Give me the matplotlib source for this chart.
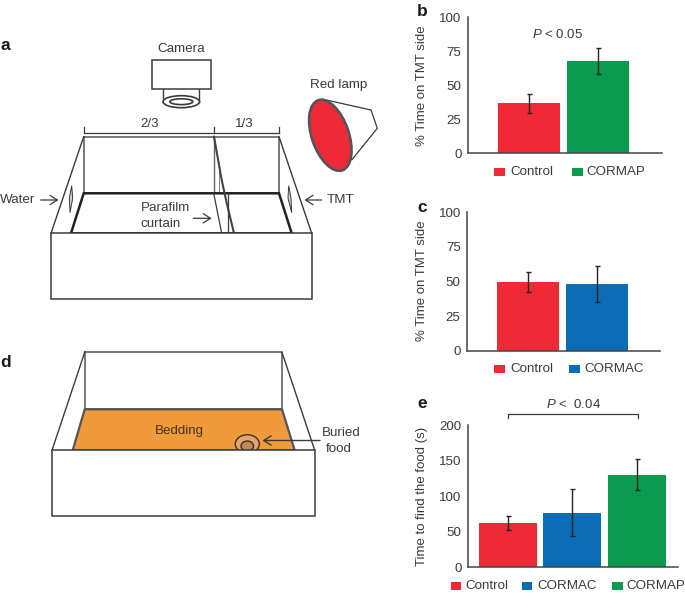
import matplotlib
matplotlib.use("Agg")
import matplotlib.pyplot as plt
from matplotlib.patches import Ellipse, Polygon, Rectangle

plt.rcParams["font.family"] = ["Liberation Sans", "DejaVu Sans"]
plt.rcParams["font.size"] = 9.6
plt.rcParams["mathtext.fontset"] = "custom"
plt.rcParams["mathtext.rm"] = "Liberation Sans"
plt.rcParams["mathtext.it"] = "Liberation Sans:italic"

INK = "#3a3a3a"
RED = "#EE2A37"
GREEN = "#0A9B4F"
BLUE = "#0B6CB6"
ORANGE = "#EF9A3B"

# panel b
b_groups = ["Control", "CORMAP"]
b_values = [36.5, 68]
b_low = [29.7, 58]
b_high = [43.6, 77.5]

# panel c
c_groups = ["Control", "CORMAC"]
c_values = [49.4, 48.2]
c_low = [42.6, 35.4]
c_high = [56.6, 61.2]

# panel e
e_groups = ["Control", "CORMAC", "CORMAP"]
e_values = [63, 77, 130]
e_low = [53, 44, 108.5]
e_high = [72.3, 110, 152.6]

group_colors = {"Control": RED, "CORMAP": GREEN, "CORMAC": BLUE}

W, H = 685, 593
fig = plt.figure(figsize=(W / 100, H / 100), dpi=100)

# whole figure axes in pixels, for the drawings and the labels
pix = fig.add_axes([0, 0, 1, 1])
pix.set_xlim(0, W)
pix.set_ylim(H, 0)
pix.axis("off")


def line(xs, ys, lw=1.1, color=INK, zorder=2):
    pix.plot(xs, ys, color=color, lw=lw, solid_capstyle="projecting", zorder=zorder)


def arrow(x0, x1, y, lw=0.9):
    pix.annotate(
        "",
        xy=(x1, y),
        xytext=(x0, y),
        arrowprops=dict(
            arrowstyle="->,head_length=0.55,head_width=0.35",
            color=INK,
            lw=lw,
            shrinkA=0,
            shrinkB=0,
        ),
        zorder=8,
    )


def label(x, y, s, ha="center", **kw):
    pix.text(x, y, s, ha=ha, va="center", color=INK, zorder=9, **kw)


def panel_letter(x, y, s):
    pix.text(x, y, s, ha="center", va="center", fontsize=12.5, fontweight="bold", color="#1a1a1a")


def bar_panel(box, spacing, first, ymax, ticks, groups, values, low, high, ylabel, label_y):
    left, top, right, bottom = box
    ax = fig.add_axes(
        [left / W, 1 - bottom / H, (right - left) / W, (bottom - top) / H], zorder=3
    )
    ax.patch.set_alpha(0)
    x_pos = list(range(len(groups)))
    heights = values
    yerr = [[v - l for v, l in zip(values, low)], [h - v for v, h in zip(values, high)]]
    ax.bar(x_pos, heights, width=0.905, color=[group_colors[g] for g in groups])
    ax.errorbar(
        x_pos, heights, yerr=yerr, fmt="none", ecolor="#222222",
        elinewidth=1.0, capsize=1.8, capthick=1.0,
    )
    ax.set_xlim((left - first) / spacing, (right - first) / spacing)
    ax.set_ylim(0, ymax)
    ax.set_yticks(ticks)
    ax.set_xticks([])
    ax.tick_params(axis="y", length=0, pad=4.5, labelsize=9.6, labelcolor=INK)
    for side in ["top", "right"]:
        ax.spines[side].set_visible(False)
    for side in ["left", "bottom"]:
        ax.spines[side].set_color("#444444")
        ax.spines[side].set_linewidth(1.1)
    ax.set_ylabel(ylabel, color=INK, fontsize=9.5)
    ax.yaxis.set_label_coords(428.5, label_y, transform=pix.transData)
    return ax


def legend_row(y, entries):
    for name, x_swatch, x_text in entries:
        pix.add_patch(
            Rectangle((x_swatch, y - 4), 10.6, 8, color=group_colors[name], lw=0, zorder=5)
        )
        label(x_text, y, name, ha="left", fontsize=9.6)


# panel a, the test box
line([83.7, 279, 279, 83.7, 83.7], [136.7, 136.7, 193.3, 193.3, 136.7], color="#555555")
line([51, 83.7], [233.3, 136.7], lw=1.0)
line([311.7, 279], [233.3, 136.7], lw=1.0)
pix.add_patch(
    Polygon(
        [(71, 233.3), (83.7, 193.3), (279, 193.3), (291.7, 233.3)],
        closed=True, fill=False, edgecolor="#222222", lw=1.8, zorder=3,
    )
)
# divider and parafilm curtain
line([213.7, 213.7], [136.7, 193.3], lw=1.0, color="#666666")
line([214, 221.7, 226.7, 234], [136.7, 180, 203, 233.3], lw=1.5, color="#444444", zorder=3)
line([213.7, 221.7], [193.3, 233.3], lw=0.9, zorder=3)
line([219.3, 219.3], [162, 193.3], lw=0.7, color="#888888")
line([227.7, 227.7], [193.3, 233.3], lw=0.9, zorder=3)
pix.add_patch(Rectangle((51, 233.3), 260.7, 65.7, fc="white", ec=INK, lw=1.1, zorder=4))
pix.add_patch(
    Polygon(
        [(71.7, 185.7), (69.3, 198.3), (70, 212.7), (72.7, 198.3)],
        closed=True, fc="#cfcfcf", ec=INK, lw=0.7,
    )
)
pix.add_patch(
    Polygon(
        [(288.7, 185.7), (288, 198.3), (291.7, 212.7), (291, 198.3)],
        closed=True, fc="#cfcfcf", ec=INK, lw=0.7,
    )
)

# scale bracket over the box
line([83.7, 279], [132.7, 132.7], lw=0.9)
for x in [83.7, 213.7, 279]:
    line([x, x], [127.3, 132.7], lw=0.9)
label(149.7, 124.3, "2/3")
label(244, 124.3, "1/3")

# camera
line([163.5, 163.5], [89.3, 101.5], lw=1.0)
line([199.2, 199.2], [89.3, 101.5], lw=1.0)
pix.add_patch(Ellipse((181.3, 101.7), 36.5, 12, fc="white", ec=INK, lw=1.2, zorder=3))
pix.add_patch(Ellipse((181.3, 101.7), 23, 5.8, fc="white", ec=INK, lw=1.2, zorder=3))
pix.add_patch(Rectangle((152.2, 60), 58.7, 29.3, fc="white", ec=INK, lw=1.1, zorder=4))
label(181, 49.3, "Camera")

# lamp
pix.add_patch(
    Polygon(
        [(321.7, 99), (371, 110), (377.3, 128.3), (351.7, 160)],
        closed=True, fc="white", ec=INK, lw=0.9,
    )
)
pix.add_patch(Ellipse((330.3, 135.3), 37, 74, angle=-19, fc=RED, ec="#555555", lw=1.9, zorder=3))
label(338.7, 85, "Red lamp")

label(17.7, 200, "Water")
arrow(40.7, 58.5, 200)
label(341, 200, "TMT")
arrow(321.7, 304.5, 200)
label(140.7, 207.7, "Parafilm", ha="left")
label(140.7, 223.7, "curtain", ha="left")
arrow(193.3, 211.7, 218.3)

# panel d, the buried food box
line([84.7, 282, 282, 84.7, 84.7], [352.3, 352.3, 409.3, 409.3, 352.3], color="#555555")
line([52, 84.7], [450.3, 352.3], lw=1.0)
line([314.7, 282], [450.3, 352.3], lw=1.0)
pix.add_patch(
    Polygon(
        [(72.7, 450.3), (84.7, 409.3), (282, 409.3), (294.7, 450.3)],
        closed=True, fc=ORANGE, ec="#555555", lw=1.6, zorder=3,
    )
)
pix.add_patch(Ellipse((247.3, 444), 24, 18.5, fc="#E9A565", ec="#333333", lw=1.0, zorder=3.5))
pix.add_patch(Ellipse((247.3, 446), 12.5, 10, fc="#C58753", ec="#333333", lw=1.0, zorder=3.6))
pix.add_patch(Rectangle((52, 450.3), 262.7, 65.7, fc="white", ec=INK, lw=1.1, zorder=4))
pix.text(179, 430.7, "Bedding", ha="center", va="center", color="#4a3014", zorder=9)
label(341.7, 433.3, "Buried")
label(339, 449.3, "food")
arrow(320, 262.5, 440.5, lw=1.0)

# bar panels
bar_panel(
    (467.7, 17, 661.7, 153), 68.3, 529.3, 100, [0, 25, 50, 75, 100],
    b_groups, b_values, b_low, b_high, "% Time on TMT side", 85.5,
)
bar_panel(
    (467, 212.3, 660, 350.7), 68.4, 528.3, 100, [0, 25, 50, 75, 100],
    c_groups, c_values, c_low, c_high, "% Time on TMT side", 280.8,
)
bar_panel(
    (467.7, 425.3, 678.3, 567.3), 64.5, 507.8, 200, [0, 50, 100, 150, 200],
    e_groups, e_values, e_low, e_high, "Time to find the food (s)", 496,
)

label(557.8, 34.3, r"$\mathit{P}$ < 0.05", fontsize=9.5)
label(573.7, 404, r"$\mathit{P}$ <  0.04", fontsize=9.5)
line([508.3, 508.3, 638, 638], [418.3, 413.7, 413.7, 418.3], lw=0.9)

legend_row(172, [("Control", 494, 510), ("CORMAP", 572, 586.7)])
legend_row(368.7, [("Control", 494, 510), ("CORMAC", 569.3, 584.3)])
legend_row(585.7, [("Control", 450.7, 465.3), ("CORMAC", 521.7, 537.7), ("CORMAP", 612, 626.7)])

panel_letter(5.5, 46, "a")
panel_letter(421.7, 11, "b")
panel_letter(421.7, 208, "c")
panel_letter(5.5, 362.7, "d")
panel_letter(421.7, 403, "e")

fig.savefig("out.png", dpi=100)
